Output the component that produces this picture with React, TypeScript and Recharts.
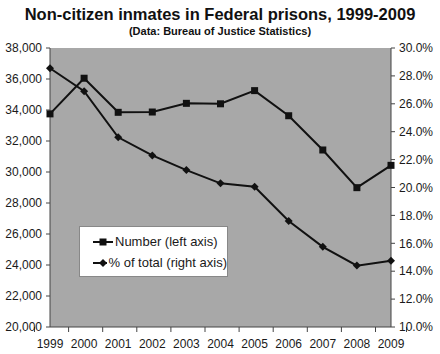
import { ComposedChart, Line, XAxis, YAxis, CartesianGrid } from "recharts";

const years = ["1999", "2000", "2001", "2002", "2003", "2004", "2005", "2006", "2007", "2008", "2009"];
const numberInmates = [33750, 36050, 33850, 33870, 34430, 34400, 35250, 33630, 31420, 28990, 30430];
const pctOfTotal = [28.55, 26.9, 23.6, 22.3, 21.25, 20.3, 20.05, 17.6, 15.75, 14.4, 14.75];
const leftTicks = [20000, 22000, 24000, 26000, 28000, 30000, 32000, 34000, 36000, 38000];
const rightTicks = [10, 12, 14, 16, 18, 20, 22, 24, 26, 28, 30];

const data = years.map((year, i) => ({ year, number: numberInmates[i], pct: pctOfTotal[i] }));

const FONT = "'Liberation Sans', Arial, sans-serif";
const TEXT = "#1a1a1a";
const BAND = 31;

const Square = (props: any) => {
  const { cx, cy } = props;
  if (cx == null || cy == null) return null;
  return <rect x={cx - 3.5} y={cy - 3.5} width={7} height={7} fill="#111" />;
};

const Diamond = (props: any) => {
  const { cx, cy } = props;
  if (cx == null || cy == null) return null;
  return <polygon points={`${cx},${cy - 4} ${cx + 4},${cy} ${cx},${cy + 4} ${cx - 4},${cy}`} fill="#111" />;
};

const YearTick = (props: any) => {
  const { x, y, payload, index } = props;
  const top = y;
  return (
    <g>
      <line x1={x - BAND / 2} x2={x - BAND / 2} y1={top} y2={top + 5} stroke="#444" />
      {index === years.length - 1 && (
        <line x1={x + BAND / 2} x2={x + BAND / 2} y1={top} y2={top + 5} stroke="#444" />
      )}
      <text x={x} y={top + 21} textAnchor="middle" fontSize={12} fill={TEXT} fontFamily={FONT}>
        {payload.value}
      </text>
    </g>
  );
};

const LegendBox = () => (
  <div
    style={{
      position: "absolute",
      left: 79,
      top: 226,
      width: 149,
      height: 51,
      background: "#fff",
      border: "1px solid #888",
      boxSizing: "border-box",
      fontFamily: FONT,
      fontSize: 13,
      color: TEXT,
      paddingLeft: 13,
      paddingTop: 4,
      whiteSpace: "nowrap",
    }}
  >
    <div style={{ display: "flex", alignItems: "center", height: 21 }}>
      <svg width={20} height={10} style={{ marginRight: 2 }}>
        <line x1={0} x2={20} y1={5} y2={5} stroke="#111" strokeWidth={2} />
        <rect x={6.5} y={1.5} width={7} height={7} fill="#111" />
      </svg>
      Number (left axis)
    </div>
    <div style={{ display: "flex", alignItems: "center", height: 21 }}>
      <svg width={20} height={10} style={{ marginRight: 2 }}>
        <line x1={0} x2={20} y1={5} y2={5} stroke="#111" strokeWidth={2} />
        <polygon points="10,1 14,5 10,9 6,5" fill="#111" />
      </svg>
      % of total (right axis)
    </div>
  </div>
);

export default function App() {
  return (
    <div style={{ position: "fixed", left: 0, top: 0, width: 440, height: 354, background: "#fff" }}>
      <div
        style={{
          position: "absolute",
          left: 0,
          top: 5,
          width: 440,
          textAlign: "center",
          fontFamily: FONT,
          fontWeight: "bold",
          fontSize: 16.5,
          color: "#111",
        }}
      >
        Non-citizen inmates in Federal prisons, 1999-2009
      </div>
      <div
        style={{
          position: "absolute",
          left: 0,
          top: 25,
          width: 440,
          textAlign: "center",
          fontFamily: FONT,
          fontWeight: "bold",
          fontSize: 11,
          color: "#111",
        }}
      >
        (Data: Bureau of Justice Statistics)
      </div>
      <ComposedChart
        width={440}
        height={354}
        data={data}
        margin={{ top: 48, right: 0, bottom: 5, left: 0 }}
        style={{ position: "absolute", left: 0, top: 0 }}
      >
        <CartesianGrid fill="#a8a8a8" horizontal={false} vertical={false} />
        <XAxis
          xAxisId="top"
          orientation="top"
          dataKey="year"
          height={0}
          tick={false}
          tickLine={false}
          axisLine={{ stroke: "#777" }}
        />
        <XAxis
          dataKey="year"
          height={22}
          tickLine={false}
          tickSize={0}
          tickMargin={0}
          axisLine={{ stroke: "#444" }}
          tick={<YearTick />}
          interval={0}
        />
        <YAxis
          yAxisId="left"
          width={50}
          domain={[20000, 38000]}
          ticks={leftTicks}
          interval={0}
          tickFormatter={(v: number) => v.toLocaleString("en-US")}
          axisLine={{ stroke: "#444" }}
          tickLine={{ stroke: "#444" }}
          tickSize={4}
          tickMargin={4}
          tick={{ fill: TEXT, fontSize: 12, fontFamily: FONT }}
        />
        <YAxis
          yAxisId="right"
          orientation="right"
          width={49}
          domain={[10, 30]}
          ticks={rightTicks}
          interval={0}
          tickFormatter={(v: number) => `${v.toFixed(1)}%`}
          axisLine={{ stroke: "#444" }}
          tickLine={{ stroke: "#444" }}
          tickSize={4}
          tickMargin={4}
          tick={{ fill: TEXT, fontSize: 12, fontFamily: FONT }}
        />
        <Line
          yAxisId="left"
          dataKey="number"
          stroke="#111"
          strokeWidth={2}
          dot={<Square />}
          activeDot={false}
          isAnimationActive={false}
        />
        <Line
          yAxisId="right"
          dataKey="pct"
          stroke="#111"
          strokeWidth={2}
          dot={<Diamond />}
          activeDot={false}
          isAnimationActive={false}
        />
      </ComposedChart>
      <LegendBox />
    </div>
  );
}
